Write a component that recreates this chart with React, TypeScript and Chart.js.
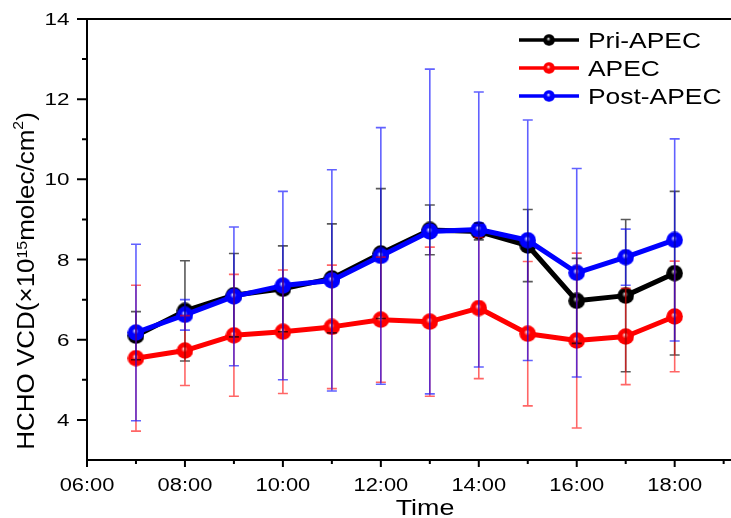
import React, { useEffect, useRef } from "react";
import { Chart, registerables } from "chart.js";

Chart.register(...registerables);

// Hour of day for each observation
const hours = [7, 8, 9, 10, 11, 12, 13, 14, 15, 16, 17, 18];

// HCHO VCD (×10^15 molec/cm^2), mean and standard deviation per hour
const priApec = [6.1, 6.72, 7.11, 7.27, 7.53, 8.15, 8.74, 8.7, 8.35, 6.97, 7.1, 7.66];
const priApecErr = [0.6, 1.25, 1.04, 1.07, 1.36, 1.62, 0.62, 0.21, 0.9, 1.06, 1.9, 2.04];

const apec = [5.54, 5.73, 6.11, 6.2, 6.32, 6.5, 6.45, 6.79, 6.15, 5.98, 6.08, 6.58];
const apecErr = [1.82, 0.87, 1.52, 1.54, 1.54, 1.56, 1.86, 1.76, 1.8, 2.18, 1.2, 1.38];

const postApec = [6.18, 6.62, 7.08, 7.35, 7.48, 8.09, 8.7, 8.75, 8.48, 7.67, 8.06, 8.49];
const postApecErr = [2.2, 0.38, 1.73, 2.35, 2.76, 3.2, 4.05, 3.43, 3.0, 2.6, 0.7, 2.52];

// Axis ticks
const xTickValues = [6, 8, 10, 12, 14, 16, 18];
const xTickLabels = ["06:00", "08:00", "10:00", "12:00", "14:00", "16:00", "18:00"];
const xMinorTicks = [7, 9, 11, 13, 15, 17, 19];
const yTickValues = [4, 6, 8, 10, 12, 14];
const yTickLabels = ["4", "6", "8", "10", "12", "14"];
const yMinorTicks = [5, 7, 9, 11, 13];

const FONT = '"Liberation Sans", Arial, Helvetica, sans-serif';

// Shaded sphere used as the point marker
function makeBall(size: number, base: string, light: string): HTMLCanvasElement {
  const c = document.createElement("canvas");
  c.width = size;
  c.height = size;
  const g = c.getContext("2d")!;
  const r = size / 2;
  const grad = g.createRadialGradient(r - 1, r - 1.8, 0, r, r, r);
  grad.addColorStop(0, "#ffffff");
  grad.addColorStop(0.1, light);
  grad.addColorStop(0.36, base);
  grad.addColorStop(1, base);
  g.fillStyle = grad;
  g.beginPath();
  g.arc(r, r, r - 0.2, 0, Math.PI * 2);
  g.fill();
  return c;
}

function stretched(
  ctx: CanvasRenderingContext2D,
  text: string,
  x: number,
  y: number,
  size: number,
  sx: number,
  align: CanvasTextAlign
) {
  ctx.save();
  ctx.font = `${size}px ${FONT}`;
  ctx.textAlign = align;
  ctx.textBaseline = "alphabetic";
  ctx.fillStyle = "#000";
  ctx.translate(x, y);
  ctx.scale(sx, 1);
  ctx.fillText(text, 0, 0);
  ctx.restore();
}

export default function App() {
  const canvasRef = useRef<HTMLCanvasElement | null>(null);

  useEffect(() => {
    const canvas = canvasRef.current;
    if (!canvas) return;

    const ballBlack = makeBall(17, "#000000", "#a8a8a8");
    const ballRed = makeBall(17, "#ff0000", "#ffb0b0");
    const ballBlue = makeBall(17, "#0000ff", "#b0b0ff");

    const series = [
      { label: "Pri-APEC", values: priApec, err: priApecErr, color: "#000000", bar: "rgba(0,0,0,0.65)", ball: ballBlack, order: 1 },
      { label: "APEC", values: apec, err: apecErr, color: "#ff0000", bar: "rgba(255,0,0,0.6)", ball: ballRed, order: 2 },
      { label: "Post-APEC", values: postApec, err: postApecErr, color: "#0000ff", bar: "rgba(0,0,255,0.62)", ball: ballBlue, order: 0 },
    ];

    const errorBars = {
      id: "errorBars",
      afterDatasetsDraw(chart: any) {
        const { ctx, scales } = chart;
        const xs = scales.x;
        const ys = scales.y;
        ctx.save();
        ctx.lineWidth = 1.6;
        [0, 1, 2].forEach((i) => {
          const s = series[i];
          ctx.strokeStyle = s.bar;
          hours.forEach((h, k) => {
            const px = xs.getPixelForValue(h);
            const top = ys.getPixelForValue(s.values[k] + s.err[k]);
            const bot = ys.getPixelForValue(s.values[k] - s.err[k]);
            ctx.beginPath();
            ctx.moveTo(px, top);
            ctx.lineTo(px, bot);
            ctx.moveTo(px - 5, top);
            ctx.lineTo(px + 5, top);
            ctx.moveTo(px - 5, bot);
            ctx.lineTo(px + 5, bot);
            ctx.stroke();
          });
        });
        ctx.restore();
      },
    };

    const frame = {
      id: "frame",
      afterDraw(chart: any) {
        const { ctx, scales, chartArea } = chart;
        const xs = scales.x;
        const ys = scales.y;
        const { left, right, top, bottom } = chartArea;
        ctx.save();
        ctx.strokeStyle = "#000";
        ctx.lineWidth = 2;
        // axis lines and top border
        ctx.beginPath();
        ctx.moveTo(left, top);
        ctx.lineTo(left, bottom + 1);
        ctx.moveTo(left - 1, bottom);
        ctx.lineTo(right, bottom);
        ctx.moveTo(left, top);
        ctx.lineTo(right, top);
        ctx.stroke();

        // x ticks
        ctx.beginPath();
        xTickValues.forEach((v) => {
          const p = xs.getPixelForValue(v);
          ctx.moveTo(p, bottom);
          ctx.lineTo(p, bottom + 7);
        });
        xMinorTicks.forEach((v) => {
          const p = xs.getPixelForValue(v);
          ctx.moveTo(p, bottom);
          ctx.lineTo(p, bottom + 4);
        });
        // y ticks
        yTickValues.forEach((v) => {
          const p = ys.getPixelForValue(v);
          ctx.moveTo(left, p);
          ctx.lineTo(left - 10, p);
        });
        yMinorTicks.forEach((v) => {
          const p = ys.getPixelForValue(v);
          ctx.moveTo(left, p);
          ctx.lineTo(left - 5, p);
        });
        ctx.stroke();

        // tick labels
        xTickValues.forEach((v, i) => {
          stretched(ctx, xTickLabels[i], xs.getPixelForValue(v), bottom + 30.5, 17.5, 1.25, "center");
        });
        yTickValues.forEach((v, i) => {
          stretched(ctx, yTickLabels[i], left - 17.5, ys.getPixelForValue(v) + 6, 16, 1.4, "right");
        });

        // x title
        stretched(ctx, "Time", 425, 515, 22, 1.22, "center");

        // y title with superscripts
        const parts = [
          { t: "HCHO VCD(×10", size: 23, dy: 0 },
          { t: "15", size: 14, dy: -7 },
          { t: "molec/cm", size: 23, dy: 0 },
          { t: "2", size: 14, dy: -11 },
          { t: ")", size: 23, dy: 0 },
        ];
        const sxT = 1.13;
        let total = 0;
        parts.forEach((p) => {
          ctx.font = `${p.size}px ${FONT}`;
          total += ctx.measureText(p.t).width * sxT;
        });
        ctx.save();
        ctx.translate(33.5, 281);
        ctx.rotate(-Math.PI / 2);
        let cur = -total / 2;
        parts.forEach((p) => {
          ctx.font = `${p.size}px ${FONT}`;
          const w = ctx.measureText(p.t).width * sxT;
          ctx.save();
          ctx.translate(cur, p.dy);
          ctx.scale(sxT, 1);
          ctx.textAlign = "left";
          ctx.textBaseline = "alphabetic";
          ctx.fillStyle = "#000";
          ctx.fillText(p.t, 0, 0);
          ctx.restore();
          cur += w;
        });
        ctx.restore();

        // legend
        series.forEach((s, i) => {
          const cy = 40 + i * 28;
          ctx.strokeStyle = s.color;
          ctx.lineWidth = 3.5;
          ctx.beginPath();
          ctx.moveTo(519, cy);
          ctx.lineTo(579, cy);
          ctx.stroke();
          ctx.drawImage(s.ball, 543, cy - 6, 12, 12);
          stretched(ctx, s.label, 588, cy + 8, 22, 1.2, "left");
        });
        ctx.restore();
      },
    };

    const chart = new Chart(canvas, {
      type: "line",
      data: {
        datasets: series.map((s) => ({
          label: s.label,
          data: hours.map((h, k) => ({ x: h, y: s.values[k] })),
          borderColor: s.color,
          backgroundColor: s.color,
          borderWidth: 5,
          borderJoinStyle: "round" as const,
          pointStyle: s.ball,
          pointRadius: 8,
          pointHoverRadius: 8,
          order: s.order,
          clip: false as const,
        })),
      },
      options: {
        animation: false,
        responsive: true,
        maintainAspectRatio: false,
        layout: { autoPadding: false, padding: { left: 87, top: 19, right: 0, bottom: 58 } },
        plugins: { legend: { display: false }, tooltip: { enabled: false } },
        scales: {
          x: { type: "linear", min: 6, max: 19.15, display: false },
          y: { type: "linear", min: 3, max: 14, display: false },
        },
      },
      plugins: [errorBars, frame],
    });

    return () => chart.destroy();
  }, []);

  return (
    <div style={{ position: "fixed", left: 0, top: 0, width: 731, height: 518, background: "#fff" }}>
      <canvas ref={canvasRef} />
    </div>
  );
}
